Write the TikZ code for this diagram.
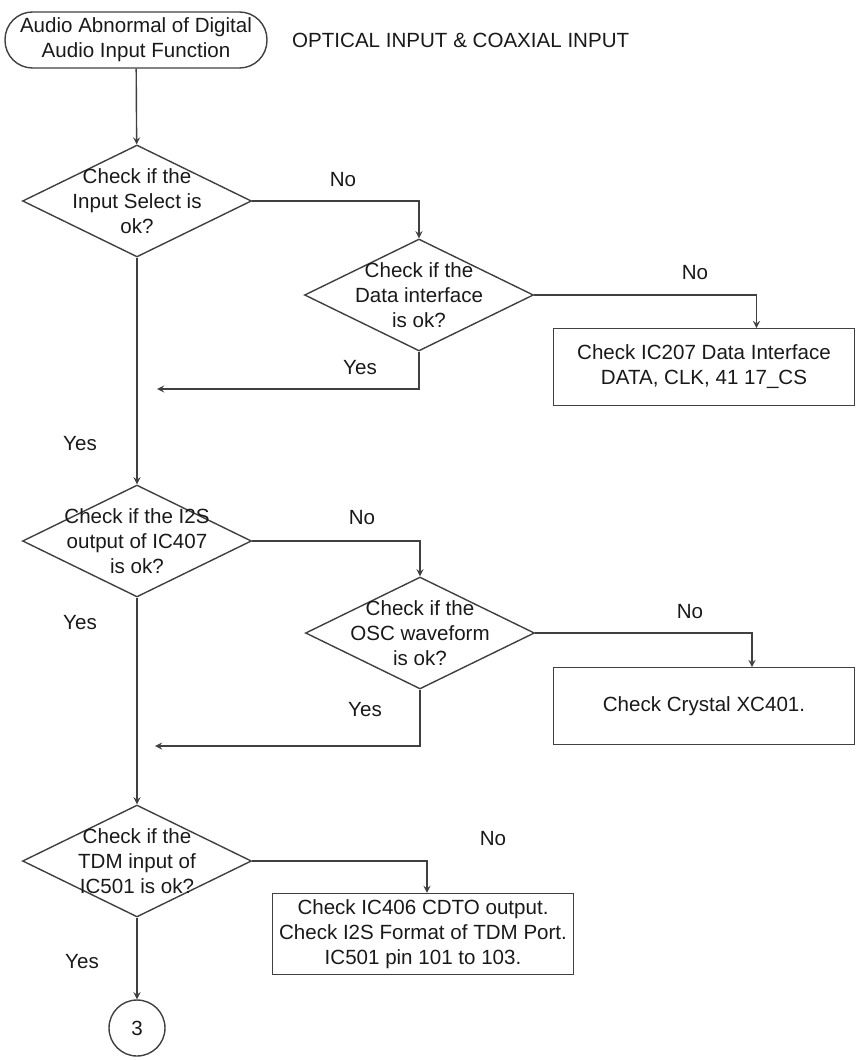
\documentclass[tikz,border=0pt]{standalone}
\usepackage{fontspec}
\setmainfont{Liberation Sans}
\usetikzlibrary{shapes.geometric}

\begin{document}
\begin{tikzpicture}[x=0.02cm, y=-0.02cm, font=\fontsize{11.7}{14.2}\selectfont]
  \tikzstyle{terminal} = [rectangle, draw=black!75, line width=0.8pt, rounded corners=0.55cm, minimum width=5.24cm, minimum height=1.12cm, align=center, text=black!90]
  \tikzstyle{decision} = [diamond, draw=black!75, line width=0.8pt, minimum width=4.58cm, minimum height=2.24cm, inner sep=0pt]
  \tikzstyle{action} = [rectangle, draw=black!75, line width=0.8pt, minimum width=6.02cm, minimum height=1.53cm, align=center, text=black!90]
  \tikzstyle{connector} = [circle, draw=black!75, line width=0.8pt, minimum size=1.12cm, text=black!90]
  \tikzstyle{arrow} = [->, >=stealth, draw=black!75, line width=0.8pt]
  \tikzstyle{tag} = [text=black!90]

  \useasboundingbox (0,0) rectangle (862,1060);

  % Start
  \node [terminal] (start) at (136,40) {Audio Abnormal of Digital\\Audio Input Function};
  \node [tag, anchor=west] (title) at (286,40) {OPTICAL INPUT \& COAXIAL INPUT};

  % Input select
  \node [decision, label={[align=center, text=black!90]center:{Check if the\\Input Select is\\ok?}}] (d1) at (137,201) {};
  \node [decision, label={[align=center, text=black!90]center:{Check if the\\Data interface\\is ok?}}] (d2) at (419,295) {};
  \node [action] (box1) at (704,367) {Check IC207 Data Interface\\DATA, CLK, 41 17\_CS};
  \coordinate (j1) at (157,389);

  % I2S output
  \node [decision, label={[align=center, text=black!90]center:{Check if the I2S\\output of IC407\\is ok?}}] (d3) at (137,541) {};
  \node [decision, label={[align=center, text=black!90]center:{Check if the\\OSC waveform\\is ok?}}] (d4) at (420,633) {};
  \node [action] (box2) at (704,706) {Check Crystal XC401.};
  \coordinate (j2) at (155,746);

  % TDM input
  \node [decision, label={[align=center, text=black!90]center:{Check if the\\TDM input of\\IC501 is ok?}}] (d5) at (137,861) {};
  \node [action] (box3) at (423,934) {Check IC406 CDTO output.\\Check I2S Format of TDM Port.\\IC501 pin 101 to 103.};
  \node [connector] (c3) at (137,1028) {3};

  % Arrows
  \draw [arrow] (start) -- (d1);
  \draw [arrow] (d1.east) -| (d2.north);
  \draw [arrow] (d2.east) -| ([xshift=1.05cm]box1.north);
  \draw [arrow] (d2.south) |- (j1);
  \draw [arrow] (d1.south) -- (d3.north);
  \draw [arrow] (d3.east) -| (d4.north);
  \draw [arrow] (d4.east) -| ([xshift=0.96cm]box2.north);
  \draw [arrow] (d4.south) |- (j2);
  \draw [arrow] (d3.south) -- (d5.north);
  \draw [arrow] (d5.east) -| ([xshift=0.08cm]box3.north);
  \draw [arrow] (d5.south) -- (c3);

  % Labels
  \node [tag] (no1) at (343,180) {No};
  \node [tag] (no2) at (695,273) {No};
  \node [tag] (yes1) at (360,368) {Yes};
  \node [tag] (yes2) at (80,444) {Yes};
  \node [tag] (no3) at (362,518) {No};
  \node [tag] (no4) at (690,612) {No};
  \node [tag] (yes3) at (80,623) {Yes};
  \node [tag] (yes4) at (365,710) {Yes};
  \node [tag] (no5) at (493,839) {No};
  \node [tag] (yes5) at (82,962) {Yes};
\end{tikzpicture}
\end{document}
